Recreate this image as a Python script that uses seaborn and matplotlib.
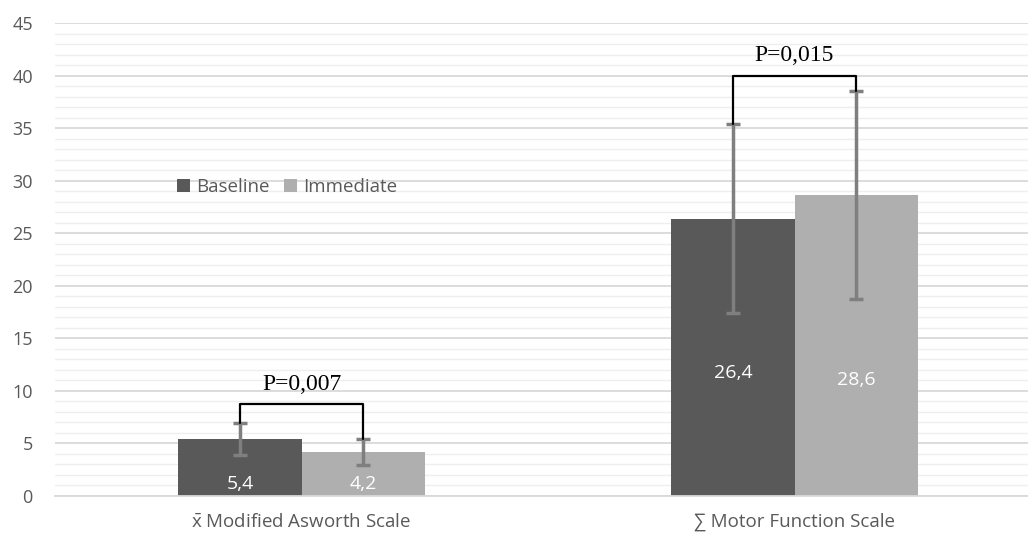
import pandas as pd
import numpy as np
import seaborn as sns
import matplotlib.pyplot as plt
from matplotlib.ticker import MultipleLocator

# values
categories = [r"$\bar{\mathrm{x}}$ Modified Asworth Scale", "\u2211 Motor Function Scale"]
groups = ["Baseline", "Immediate"]
baseline = [5.4, 26.4]
immediate = [4.2, 28.6]
baseline_sd = [1.5, 9.0]
immediate_sd = [1.25, 9.9]
p_values = ["P=0,007", "P=0,015"]
bracket_y = [8.75, 40.0]

df = pd.DataFrame({
    "scale": categories * 2,
    "group": [groups[0]] * 2 + [groups[1]] * 2,
    "value": baseline + immediate,
})

sns.set_theme(style="white")
plt.rcParams["font.family"] = ["Open Sans", "DejaVu Sans"]
plt.rcParams["mathtext.fontset"] = "custom"
plt.rcParams["mathtext.rm"] = "Open Sans"

fig = plt.figure(figsize=(10.28, 5.34), dpi=100)
ax = fig.add_axes([55 / 1028, 38 / 534, 973 / 1028, 473 / 534])

palette = {"Baseline": "#595959", "Immediate": "#afafaf"}
sns.barplot(data=df, x="scale", y="value", hue="group", order=categories,
            hue_order=groups, palette=palette, width=0.5, saturation=1,
            errorbar=None, linewidth=0, ax=ax, zorder=2)

ax.set_ylim(0, 45)
ax.set_xlim(-0.5, -0.5 + 973 / 493)
ax.yaxis.set_major_locator(MultipleLocator(5))
ax.yaxis.set_minor_locator(MultipleLocator(1))
ax.grid(axis="y", which="major", color="#d9d9d9", lw=1.3, zorder=0)
ax.grid(axis="y", which="minor", color="#efefef", lw=1.0, zorder=0)
ax.set_axisbelow(True)
for s in ["top", "right", "left"]:
    ax.spines[s].set_visible(False)
ax.spines["bottom"].set_color("#d9d9d9")
ax.spines["bottom"].set_linewidth(1.3)
ax.tick_params(axis="both", which="both", length=0, colors="#595959")
ax.tick_params(axis="x", pad=12, labelsize=13.5)
ax.tick_params(axis="y", pad=16, labelsize=13)
ax.set_xlabel("")
ax.set_ylabel("")

# bars in order: baseline cat0, baseline cat1, immediate cat0, immediate cat1
bars = ax.patches[:4]
means = baseline + immediate
sds = baseline_sd + immediate_sd
centers = [b.get_x() + b.get_width() / 2 for b in bars]
ax.errorbar(centers, means, yerr=sds, fmt="none", ecolor="#7f7f7f",
            elinewidth=2.5, capsize=5, capthick=2.5, zorder=3)

# value labels inside bars
label_y = [1.1, 11.7, 1.1, 11.0]
for c, v, ly in zip(centers, means, label_y):
    ax.text(c, ly, f"{v:.1f}".replace(".", ","), ha="center", va="center",
            color="white", fontsize=14, zorder=4)

# significance brackets
for i in range(2):
    x0, x1 = centers[i], centers[i + 2]
    y0 = baseline[i] + baseline_sd[i]
    y1 = immediate[i] + immediate_sd[i]
    yb = bracket_y[i]
    ax.plot([x0, x0, x1, x1], [y0, yb, yb, y1], color="black", lw=1.6,
            zorder=4)
    ax.text((x0 + x1) / 2, yb + 0.9, p_values[i], ha="center", va="bottom",
            fontsize=17, family="Liberation Serif", color="black")

ax.legend(loc="center left", bbox_to_anchor=(0.108, 0.653), ncol=2,
          frameon=False, fontsize=13.5, handlelength=0.7, handleheight=0.7,
          handletextpad=0.3, columnspacing=0.8, labelcolor="#595959")

fig.savefig("out.png", dpi=100, facecolor="white")
